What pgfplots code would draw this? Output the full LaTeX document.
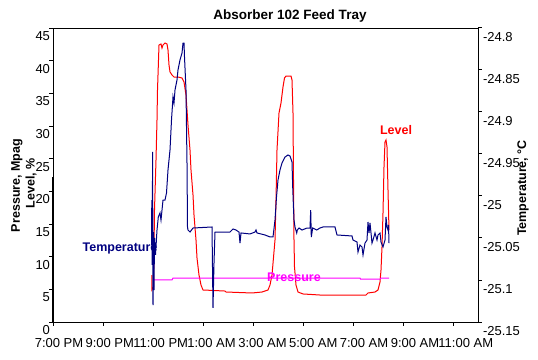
\documentclass[border=0pt]{standalone}
\usepackage{fontspec}
\setmainfont{Liberation Sans}
\usepackage{pgfplots}
\pgfplotsset{compat=1.18}
\definecolor{lvl}{RGB}{255,0,0}
\definecolor{tmp}{RGB}{0,0,128}
\definecolor{prs}{RGB}{255,0,255}
\begin{document}
\begin{tikzpicture}
\path[use as bounding box] (0,0) rectangle (538pt,359pt);
\pgfplotsset{
  common/.style={
    at={(53pt,37pt)}, anchor=south west, scale only axis,
    width=425pt, height=294pt,
    xmin=0, xmax=17,
    axis line style={black, line width=1pt},
    tick style={black, line width=1pt},
    tick align=outside, major tick length=3.5pt,
    ticklabel style={font=\fontsize{13}{15}\selectfont},
    /pgf/number format/assume math mode=true,
    clip=false,
  }
}
\begin{axis}[common,
  ymin=0, ymax=45,
  xtick={0.24,2.27,4.31,6.34,8.38,10.41,12.44,14.48,16.51},
  xticklabels={7:00 PM,9:00 PM,11:00 PM,1:00 AM,3:00 AM,5:00 AM,7:00 AM,9:00 AM,11:00 AM},
  x tick style={draw=none},
  xticklabel shift=9.5pt,
  ytick={0,5,...,45},
  xtick pos=bottom, ytick pos=left,
  yticklabel style={yshift=-8pt, xshift=4pt},
]
\addplot[lvl, line width=1pt] coordinates {
(3.95,7.19)(3.95,4.90)(4.02,5.36)(4.04,11.02)(4.06,17.14)(4.12,24.80)(4.16,30.92)(4.18,35.51)
(4.22,40.10)(4.24,42.40)(4.32,42.55)(4.36,41.94)(4.40,42.40)(4.48,42.70)(4.56,42.55)(4.60,41.63)
(4.64,39.34)(4.68,38.27)(4.76,37.81)(4.84,37.50)(5.00,37.50)(5.16,37.35)(5.24,36.73)(5.32,34.74)
(5.36,32.45)(5.40,30.15)(5.48,26.33)(5.52,23.27)(5.60,19.44)(5.64,16.38)(5.72,12.55)(5.76,9.80)
(5.84,7.19)(5.92,5.66)(6.00,4.90)(6.88,4.74)(6.92,4.59)(7.96,4.44)(8.36,4.59)(8.60,4.90)
(8.68,5.66)(8.76,7.19)(8.88,12.55)(8.92,18.67)(8.96,26.33)(9.04,31.99)(9.12,33.52)(9.20,35.97)
(9.26,37.35)(9.32,37.65)(9.52,37.65)(9.56,37.04)(9.60,31.99)(9.62,21.73)(9.64,12.55)(9.66,8.42)
(9.72,5.66)(9.80,4.59)(10.00,4.29)(10.68,4.13)(12.52,4.13)(12.60,4.44)(12.88,4.59)(13.00,4.90)
(13.08,6.12)(13.12,7.96)(13.16,11.48)(13.20,16.68)(13.24,23.72)(13.28,27.55)(13.32,27.86)
(13.36,26.79)(13.40,20.20)(13.44,14.08)
};
\addplot[prs, line width=1pt] coordinates {
(4.04,6.43)(4.76,6.43)(4.80,6.73)(12.28,6.73)(12.30,6.58)(13.08,6.58)(13.12,6.73)(13.44,6.73)
};
\draw[black, line width=2pt] (axis cs:0,0) -- (axis cs:0,22.2);
\end{axis}
\begin{axis}[common,
  ymin=-25.15, ymax=-24.8,
  axis x line*=bottom, axis y line*=right,
  xtick={0,2,...,16}, xticklabels={},
  ytick={-25.15,-25.1,-25.05,-25,-24.95,-24.9,-24.85,-24.8},
  yticklabels={-25.15,-25.1,-25.05,-25,-24.95,-24.9,-24.85,-24.8},
  yticklabel style={yshift=-9pt, xshift=-2pt},
]
\addplot[tmp, line width=1pt] coordinates {
(3.94,-25.0583)(3.952,-25.0048)(3.968,-25.0821)(3.984,-24.9476)(4.00,-25.1298)(4.02,-25.0429)
(4.04,-25.1119)(4.06,-25.05)(4.10,-25.0702)(4.16,-25.0405)(4.212,-25.025)(4.28,-25.0202)
(4.32,-25.0286)(4.40,-25.0048)(4.48,-25.0048)(4.54,-24.9964)(4.60,-24.969)(4.68,-24.9452)
(4.74,-24.9095)(4.80,-24.8821)(4.84,-24.8893)(4.88,-24.8738)(4.96,-24.8619)(5.00,-24.85)
(5.08,-24.8381)(5.16,-24.8298)(5.20,-24.8179)(5.24,-24.8179)(5.26,-24.8345)(5.32,-24.8738)
(5.36,-24.9607)(5.38,-25.0369)(5.40,-25.0405)(5.48,-25.0429)(5.60,-25.0381)(6.36,-25.0369)
(6.40,-25.1333)(6.44,-25.0798)(6.48,-25.0429)(7.08,-25.0429)(7.20,-25.0393)(7.32,-25.0405)
(7.44,-25.0429)(7.48,-25.056)(7.52,-25.0440)(7.88,-25.0452)(8.08,-25.0429)(8.12,-25.0405)
(8.16,-25.0440)(8.48,-25.0464)(8.68,-25.0488)(8.80,-25.0488)(8.88,-25.0286)(8.94,-25.0012)
(9.00,-24.981)(9.08,-24.969)(9.16,-24.9607)(9.28,-24.9536)(9.40,-24.9512)(9.48,-24.9524)
(9.56,-24.9595)(9.588,-24.9893)(9.612,-25.0083)(9.64,-25.0286)(9.68,-25.0369)(9.748,-25.0440)
(9.772,-25.0405)(9.84,-25.0381)(9.96,-25.0405)(10.16,-25.0381)(10.28,-25.0381)(10.308,-25.0167)
(10.332,-25.0488)(10.388,-25.0381)(10.548,-25.0405)(10.68,-25.0381)(10.80,-25.0369)(11.20,-25.0369)
(11.28,-25.0369)(11.36,-25.0464)(11.96,-25.0476)(12.00,-25.0524)(12.16,-25.0548)(12.20,-25.0667)
(12.28,-25.0583)(12.36,-25.0607)(12.40,-25.0702)(12.48,-25.056)(12.56,-25.0524)(12.60,-25.031)
(12.64,-25.044)(12.68,-25.0321)(12.76,-25.056)(12.80,-25.0524)(12.88,-25.044)(12.96,-25.0524)
(13.00,-25.0464)(13.08,-25.044)(13.12,-25.0548)(13.20,-25.0607)(13.28,-25.0524)(13.32,-25.025)
(13.36,-25.0369)(13.40,-25.0405)(13.42,-25.0345)(13.44,-25.056)
};
\end{axis}
\node[font=\fontsize{13.5}{16}\selectfont\bfseries] at (290pt,343pt) {Absorber 102 Feed Tray};
\node[font=\fontsize{12.5}{14}\selectfont\bfseries, rotate=90] at (17pt,173.5pt) {Pressure, Mpag};
\node[font=\fontsize{12.5}{14}\selectfont\bfseries, rotate=90] at (31pt,176pt) {Level, \%};
\node[font=\fontsize{12.5}{14}\selectfont\bfseries, rotate=90] at (523pt,171pt) {Temperature, °C};
\node[font=\fontsize{12.5}{14}\selectfont\bfseries, text=tmp] at (120pt,111pt) {Temperature};
\node[font=\fontsize{12.5}{14}\selectfont\bfseries, text=prs] at (294pt,82pt) {Pressure};
\node[font=\fontsize{12.5}{14}\selectfont\bfseries, text=lvl] at (396pt,229pt) {Level};
\end{tikzpicture}
\end{document}
